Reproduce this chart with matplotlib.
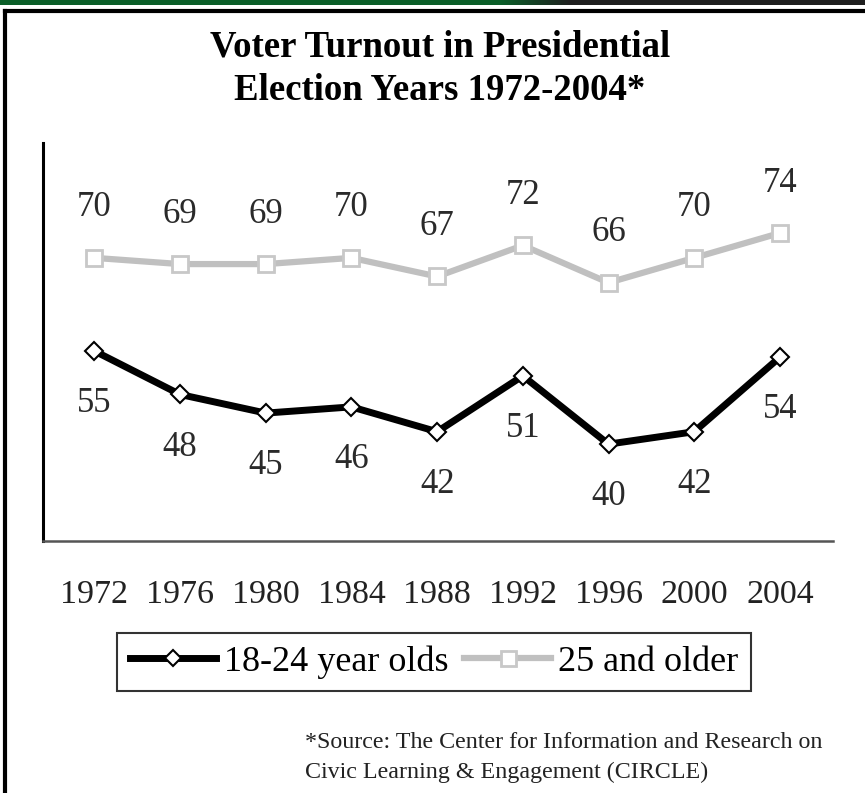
import numpy as np
import matplotlib
matplotlib.use("Agg")
import matplotlib.pyplot as plt
from matplotlib.lines import Line2D

plt.rcParams['font.family'] = ['Liberation Serif', 'DejaVu Serif']

years = ['1972', '1976', '1980', '1984', '1988', '1992', '1996', '2000', '2004']
young = [55, 48, 45, 46, 42, 51, 40, 42, 54]
older = [70, 69, 69, 70, 67, 72, 66, 70, 74]

W, H = 865, 793
fig = plt.figure(figsize=(W / 100, H / 100), dpi=100)

# green / dark strip along the top
bar = fig.add_axes([0, 1 - 5 / H, 1, 5 / H])
green = np.array([0.04, 0.37, 0.16])
dark = np.array([0.12, 0.12, 0.12])
t = np.clip((np.arange(W) - 500) / 70.0, 0, 1)[:, None]
strip = (green * (1 - t) + dark * t)[None, :, :]
bar.imshow(strip, aspect='auto')
bar.axis('off')

# black frame (top and left)
fig.add_artist(Line2D([5 / W, 1], [1 - 11 / H, 1 - 11 / H], color='black', lw=3,
                      transform=fig.transFigure))
fig.add_artist(Line2D([5 / W, 5 / W], [0, 1 - 11 / H], color='black', lw=3,
                      transform=fig.transFigure))

fig.text(440 / W, 1 - 47 / H, 'Voter Turnout in Presidential', ha='center', va='center',
         fontsize=26.5, fontweight='bold')
fig.text(440 / W, 1 - 90 / H, 'Election Years 1972-2004*', ha='center', va='center',
         fontsize=26.5, fontweight='bold')

ax = fig.add_axes([43 / W, 1 - 541 / H, 790 / W, 398 / H])
x = np.arange(len(years))
ax.plot(x, young, color='black', lw=5, marker='D', ms=9, mfc='white', mec='black',
        mew=1.5, label='18-24 year olds', zorder=3)
ax.plot(x, older, color='#c0c0c0', lw=4.5, marker='s', ms=12, mfc='white', mec='#c8c8c8',
        mew=2, label='25 and older', zorder=2)

for xi, v in zip(x, young):
    ax.annotate(str(v), (xi, v), xytext=(0, -38), textcoords='offset points',
                ha='center', va='center', fontsize=25, color='#2a2a2a')
for xi, v in zip(x, older):
    ax.annotate(str(v), (xi, v), xytext=(0, 36), textcoords='offset points',
                ha='center', va='center', fontsize=25, color='#2a2a2a')

ax.set_xlim(-0.6, 8.62)
ax.set_ylim(24.4, 88.5)
ax.set_xticks(x)
ax.set_xticklabels(years, fontsize=24.5, color='#222222')
ax.tick_params(axis='x', length=0, pad=28)
ax.set_yticks([])
ax.spines['top'].set_visible(False)
ax.spines['right'].set_visible(False)
ax.spines['left'].set_linewidth(2.2)
ax.spines['left'].set_color('black')
ax.spines['bottom'].set_linewidth(1.8)
ax.spines['bottom'].set_color('#555555')

leg = fig.legend(loc='center', bbox_to_anchor=(434 / W, 1 - 662 / H), ncol=2,
                 fontsize=26, frameon=True, fancybox=False, edgecolor='black',
                 handlelength=2.4, handletextpad=0.2, columnspacing=0.45,
                 borderpad=0.35, markerscale=0.9)
leg.get_frame().set_linewidth(1.5)

fig.text(305 / W, 1 - 742 / H, '*Source: The Center for Information and Research on',
         ha='left', va='center', fontsize=17.3, color='#222222')
fig.text(305 / W, 1 - 772 / H, 'Civic Learning & Engagement (CIRCLE)',
         ha='left', va='center', fontsize=17.3, color='#222222')

fig.savefig('out.png', dpi=100)
